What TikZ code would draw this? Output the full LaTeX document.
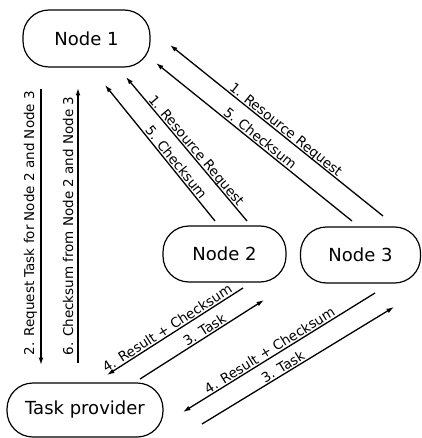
\documentclass[tikz,border=0pt]{standalone}
\usepackage{fontspec}
\setmainfont{DejaVu Sans}
\usetikzlibrary{arrows.meta,calc}
\begin{document}
\begin{tikzpicture}[x=1pt,y=-1pt,
  nodebox/.style={draw, line width=1.2pt, rounded corners=26pt, inner sep=0pt,
    font=\fontsize{18}{20}\selectfont},
  conn/.style={line width=1.3pt, -{Latex[length=7.5pt,width=4.8pt]}},
  lbl/.style={sloped, anchor=base, inner sep=0pt, yshift=2pt, font=\fontsize{13.5}{15}\selectfont},
  vlbl/.style={rotate=90, anchor=base, inner sep=0pt, font=\fontsize{13.5}{15}\selectfont}]
\useasboundingbox (0,0) rectangle (421,438);

\node[nodebox, minimum width=127pt, minimum height=57pt] (n1) at (86.5,38.5) {Node 1};
\node[nodebox, minimum width=123pt, minimum height=56pt] (n2) at (224.5,254) {Node 2};
\node[nodebox, minimum width=120pt, minimum height=56pt] (n3) at (360.5,255) {Node 3};
\node[nodebox, minimum width=156pt, minimum height=54pt] (tp) at (85,410) {Task provider};

% vertical connectors
\coordinate (v1t) at (41,89);
\coordinate (v1b) at (41,365);
\coordinate (v2b) at (78,363);
\coordinate (v2t) at (78,88);
\draw[conn] (v1t) -- (v1b);
\draw[conn] (v2b) -- (v2t);
\node[vlbl] (l2) at (34,223) {2. Request Task for Node 2 and Node 3};
\node[vlbl] (l6) at (73,226) {6. Checksum from Node 2 and Node 3};

% diagonal upper
\coordinate (a) at (215,221); \coordinate (b) at (105,85);
\coordinate (c) at (247,221); \coordinate (d) at (126,77);
\coordinate (e) at (352,221); \coordinate (f) at (156,63);
\coordinate (g) at (383,216); \coordinate (h) at (170,45);
\draw[conn] (a) -- node[lbl, pos=0.40] (l5a) {5. Checksum} (b);
\draw[conn] (c) -- node[lbl, pos=0.46] (l1a) {1. Resource Request} (d);
\draw[conn] (e) -- node[lbl, pos=0.49] (l5b) {5. Checksum} (f);
\draw[conn] (g) -- node[lbl, pos=0.475] (l1b) {1. Resource Request} (h);

% lower
\coordinate (i) at (243,288); \coordinate (j) at (107,375);
\coordinate (k) at (140,379); \coordinate (l) at (264,300);
\coordinate (m) at (375,293); \coordinate (n) at (183,412);
\coordinate (o) at (202,424); \coordinate (p) at (394,307);
\draw[conn] (i) -- node[lbl, pos=0.53] (l4a) {4. Result + Checksum} (j);
\draw[conn] (k) -- node[lbl, pos=0.55] (l3a) {3. Task} (l);
\draw[conn] (m) -- node[lbl, pos=0.53] (l4b) {4. Result + Checksum} (n);
\draw[conn] (o) -- node[lbl, pos=0.44] (l3b) {3. Task} (p);
\end{tikzpicture}
\end{document}
